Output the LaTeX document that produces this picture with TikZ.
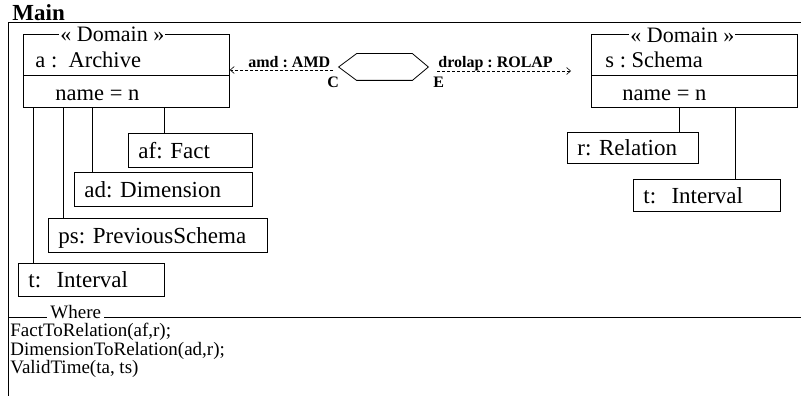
\documentclass[tikz,border=0pt]{standalone}
\usepackage{fontspec}
\setmainfont{Liberation Serif}
\usetikzlibrary{arrows.meta}
\frenchspacing
\begin{document}
\begin{tikzpicture}[x=1pt,y=-1pt,line width=0.8pt,
  dombox/.style={draw, rectangle, minimum width=206pt, minimum height=73pt, inner sep=0pt, anchor=north west},
  lbl/.style={inner sep=0pt, anchor=base west, font=\frenchspacing\fontsize{22.5}{22.5}\selectfont},
  ttl/.style={lbl, fill=white, inner xsep=1pt, font=\fontsize{22}{22}\selectfont},
  cbox/.style={draw, rectangle, anchor=north west, inner xsep=10pt, inner ysep=0pt, align=left,
    text height=15.5pt, text depth=0pt, font=\frenchspacing\fontsize{23}{23}\selectfont},
  dasharrow/.style={densely dashed, line width=0.6pt, -{Straight Barb[length=4pt,width=7pt]}},
  rel/.style={inner sep=0pt, anchor=base west, font=\bfseries\fontsize{16}{16}\selectfont},
  btxt/.style={inner sep=0pt, anchor=base west, font=\frenchspacing\fontsize{19}{19}\selectfont}
]
\useasboundingbox (0,0) rectangle (801,396);
% outer frame
\node[inner sep=0pt, anchor=base west, font=\bfseries\fontsize{23}{23}\selectfont] (main) at (12,21) {Main};
\coordinate (fr1) at (801,22);
\coordinate (fr2) at (8,22);
\coordinate (fr3) at (8,396);
\draw (fr1) -- (fr2) -- (fr3);
\coordinate (wl1) at (8,317);
\coordinate (wl2) at (801,317);
\draw (wl1) -- (wl2);
\node[btxt, fill=white, inner xsep=3pt, inner ysep=1pt] (where) at (47,318) {Where};
\node[btxt] (w1) at (10,336) {FactToRelation(af,r);};
\node[btxt] (w2) at (10,355) {DimensionToRelation(ad,r);};
\node[btxt] (w3) at (10,373) {ValidTime(ta, ts)};

% left domain box
\node[dombox] (a) at (23,34) {};
\draw ([yshift=-41pt]a.north west) -- ([yshift=-41pt]a.north east);
\node[ttl] (at) at (59,42) {« Domain »};
\node[lbl] (an) at (35,68) {a :\ \ Archive};
\node[lbl] (aa) at (55,100) {name = n};

% right domain box
\node[dombox] (s) at (591,34) {};
\draw ([yshift=-41pt]s.north west) -- ([yshift=-41pt]s.north east);
\node[ttl] (st) at (629,43) {« Domain »};
\node[lbl] (sn) at (605,67) {s : Schema};
\node[lbl] (sa) at (622,100) {name = n};

% left children
\node[cbox, text width=104pt, minimum height=34pt] (af) at (128,133) {af: Fact};
\node[cbox, text width=158pt, minimum height=34pt] (ad) at (74,172) {ad: Dimension};
\node[cbox, text width=199pt, minimum height=34pt] (ps) at (48,218) {ps: PreviousSchema};
\node[cbox, text width=126pt, minimum height=33pt] (tl) at (18,263) {t:\ \ Interval};

\coordinate (a1) at ([xshift=10pt]a.south west);
\coordinate (a2) at ([xshift=40pt]a.south west);
\coordinate (a3) at ([xshift=69pt]a.south west);
\coordinate (a4) at ([xshift=141pt]a.south west);
\draw (a1) -- (a1 |- tl.north);
\draw (a2) -- (a2 |- ps.north);
\draw (a3) -- (a3 |- ad.north);
\draw (a4) -- (a4 |- af.north);

% right children
\node[cbox, text width=111pt, minimum height=31pt] (r) at (567,132) {r: Relation};
\node[cbox, text width=127pt, minimum height=32pt] (tr) at (633,179) {t:\ \ Interval};
\coordinate (s1) at ([xshift=88pt]s.south west);
\coordinate (s2) at ([xshift=144pt]s.south west);
\draw (s1) -- (s1 |- r.north);
\draw (s2) -- (s2 |- tr.north);

% hexagon
\node[minimum width=89pt, minimum height=26pt, inner sep=0pt] (hex) at (383.5,67) {};
\draw (hex.west) -- ([xshift=18pt]hex.north west) -- ([xshift=-16pt]hex.north east)
  -- (hex.east) -- ([xshift=-16pt]hex.south east) -- ([xshift=18pt]hex.south west) -- cycle;

% connectors
\coordinate (la) at (333,70);
\draw[dasharrow] (la) -- (la -| a.east);
\coordinate (ra1) at (437,71);
\coordinate (ra2) at (571,71);
\draw[dasharrow] (ra1) -- (ra2);
\node[rel] (amd) at (248,68) {amd : AMD};
\node[rel] (drl) at (438,67) {drolap : ROLAP};
\node[rel] (C) at (327,88) {C};
\node[rel] (E) at (433,88) {E};
\end{tikzpicture}
\end{document}
